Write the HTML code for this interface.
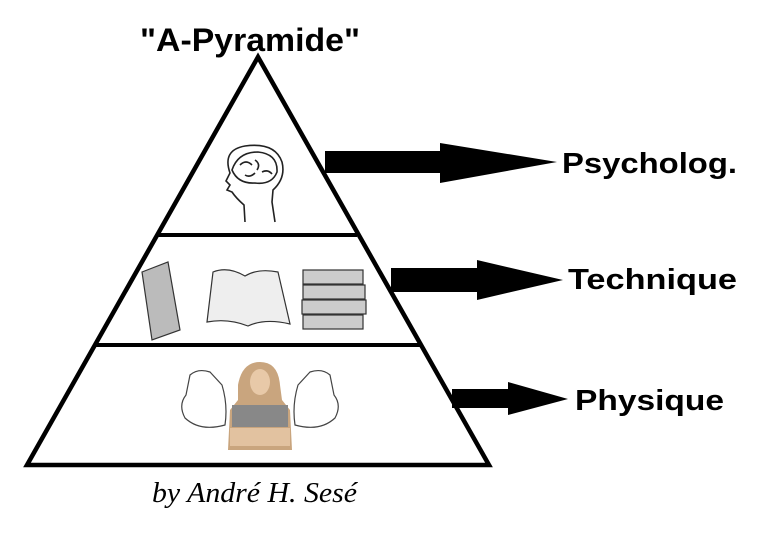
<!DOCTYPE html>
<html><head><meta charset="utf-8"><style>
html,body{margin:0;padding:0;background:#fff;}
svg{display:block;}
</style></head><body>
<svg width="758" height="537" viewBox="0 0 758 537" xmlns="http://www.w3.org/2000/svg">
<rect width="758" height="537" fill="#fff"/>
<text x="140" y="51" font-family="Liberation Sans, sans-serif" font-weight="bold" font-size="32" textLength="220" lengthAdjust="spacingAndGlyphs">"A-Pyramide"</text>
<!-- pyramid -->
<polygon points="258,57 27,465 489,465" fill="none" stroke="#000" stroke-width="4.5" stroke-linejoin="miter"/>
<line x1="158" y1="235" x2="357" y2="235" stroke="#000" stroke-width="4"/>
<line x1="96" y1="345" x2="420" y2="345" stroke="#000" stroke-width="4"/>
<!-- brain head -->
<g fill="none" stroke="#222" stroke-width="1.6">
<path d="M245,222 L244,205 Q236,198 232,192 L227,190 L230,185 L226,181 L230,173 Q222,150 245,146 Q275,142 282,162 Q286,178 273,190 L272,202 L275,222"/>
<path d="M232,170 Q238,152 258,152 Q278,154 277,172 Q272,185 255,183 Q238,184 232,170 Z"/>
<path d="M240,165 q6,-6 12,0 M255,160 q6,4 2,10 M262,172 q6,-3 10,2 M245,175 q5,3 10,-2"/>
</g>
<!-- books -->
<g stroke="#333" stroke-width="1.2" fill="#d8d8d8">
<path d="M142,272 L168,262 L180,330 L152,340 Z" fill="#bbb"/>
<path d="M207,322 L213,272 Q228,266 245,276 Q258,268 278,272 L290,324 Q265,318 248,326 Q228,318 207,322 Z" fill="#eee"/>
<rect x="303" y="270" width="60" height="14" fill="#ccc"/>
<rect x="303" y="285" width="62" height="14" fill="#ccc"/>
<rect x="302" y="300" width="64" height="14" fill="#ccc"/>
<rect x="303" y="315" width="60" height="14" fill="#ccc"/>
</g>
<!-- muscle woman -->
<g fill="none" stroke="#444" stroke-width="1.2">
<path d="M190,375 Q198,368 210,372 L222,385 Q228,405 225,425 Q200,432 185,418 Q178,405 186,395 Z"/>
<path d="M330,375 Q322,368 310,372 L298,385 Q292,405 295,425 Q320,432 335,418 Q342,405 334,395 Z"/>
</g>
<path d="M238,385 Q242,362 260,362 Q278,362 280,385 L282,400 L290,410 L292,450 L228,450 L230,410 L238,400 Z" fill="#c9a57e"/>
<rect x="232" y="405" width="56" height="22" fill="#888"/>
<rect x="230" y="428" width="60" height="18" fill="#e2c2a0"/>
<ellipse cx="260" cy="382" rx="10" ry="13" fill="#e8c9a8"/>
<!-- arrows -->
<polygon points="325,151 440,151 440,143 557,162 440,183 440,173 325,173" fill="#000"/>
<polygon points="391,268 477,268 477,260 563,280 477,300 477,292 391,292" fill="#000"/>
<polygon points="452,389 508,389 508,382 568,399 508,415 508,408 452,408" fill="#000"/>
<text x="562" y="173" font-family="Liberation Sans, sans-serif" font-weight="bold" font-size="29" textLength="175" lengthAdjust="spacingAndGlyphs">Psycholog.</text>
<text x="568" y="289" font-family="Liberation Sans, sans-serif" font-weight="bold" font-size="29" textLength="169" lengthAdjust="spacingAndGlyphs">Technique</text>
<text x="575" y="410" font-family="Liberation Sans, sans-serif" font-weight="bold" font-size="29" textLength="149" lengthAdjust="spacingAndGlyphs">Physique</text>
<text x="152" y="502" font-family="Liberation Serif, serif" font-style="italic" font-size="28" textLength="205" lengthAdjust="spacingAndGlyphs">by André H. Sesé</text>
</svg>
</body></html>
